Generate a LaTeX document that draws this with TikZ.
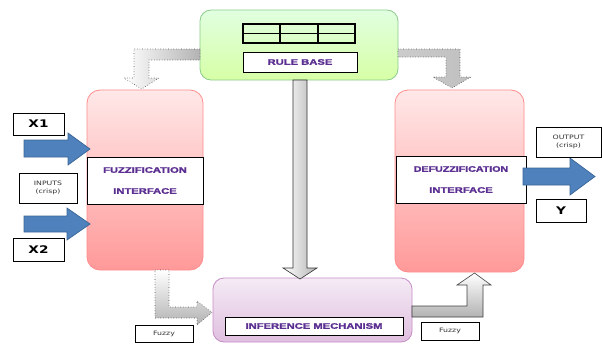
\documentclass[tikz,border=0pt]{standalone}
\usepackage{fontspec}
\usepackage{graphicx}
\newfontfamily\lbl[BoldFeatures={FakeBold=1.6}]{Liberation Sans}
\newfontfamily\vlbl{DejaVu Sans}
\newcommand\sx[1]{\scalebox{1.4}[1]{#1}}
\newcommand\sxs[1]{\scalebox{1.3}[1]{#1}}
\definecolor{purp}{HTML}{5B2E91}
\definecolor{blu}{HTML}{4F81BD}
\definecolor{bluedge}{HTML}{3A6597}
\tikzset{
  box/.style={rounded corners=11pt, inner sep=0pt, line width=0.8pt},
  band/.style={draw=black, fill=white, line width=0.8pt, inner sep=0pt, align=center,
               text=purp, font=\lbl\bfseries\fontsize{8}{21}\selectfont},
  tag/.style={draw=black, fill=white, line width=0.9pt, inner sep=0pt, align=center,
              text=black!80, font=\vlbl\fontsize{6}{8.5}\selectfont},
  bigtag/.style={tag, font=\vlbl\bfseries\fontsize{10.5}{12}\selectfont, text=black},
  grayarrow/.style={draw=black!70, line width=0.6pt, dotted, left color=white, right color=black!30},
  bluearrow/.style={draw=bluedge, line width=0.7pt, fill=blu},
}
\begin{document}
\begin{tikzpicture}[x=1pt,y=-1pt]
\useasboundingbox (0,0) rectangle (602,343);
% main blocks
\node[box, draw=green!55!black!45, top color=green!12!white, bottom color=green!45!yellow!35,
      minimum width=198pt, minimum height=70pt] (rb) at (299,45) {};
\node[box, rounded corners=13pt, draw=red!45, top color=red!9, bottom color=red!40,
      minimum width=116pt, minimum height=180pt] (fz) at (145,180) {};
\node[box, rounded corners=13pt, draw=red!45, top color=red!9, bottom color=red!40,
      minimum width=129pt, minimum height=182pt] (dz) at (459.5,181) {};
\node[box, draw=violet!45, top color=violet!8, bottom color=violet!25,
      minimum width=199pt, minimum height=64pt] (im) at (312.5,310) {};
% rule table
\draw[line width=1.6pt, black] (243,24) rectangle (355,43);
\draw[line width=1.4pt, black] (280,24) -- (280,43) (318,24) -- (318,43) (243,33.5) -- (355,33.5);
% bands
\node[band, minimum width=116pt, minimum height=47pt] (fzl) at (145,180.5) {\sx{FUZZIFICATION}\\\sx{INTERFACE}};
\node[band, minimum width=130pt, minimum height=47pt] (dzl) at (461,179.5) {\scalebox{1.33}[1]{DEFUZZIFICATION}\\\sx{INTERFACE}};
\node[band, minimum width=114pt, minimum height=20pt] (rbl) at (300,62) {\sx{RULE BASE}};
\node[band, minimum width=178pt, minimum height=18pt] (iml) at (314,326) {\sx{INFERENCE MECHANISM}};
% gray block arrows
\path[grayarrow] (200,49) -- (134,49) -- (134,78) -- (124,78) -- (141.5,89) -- (159,78) -- (149,78) -- (149,60) -- (200,60) -- cycle;
\path[grayarrow, left color=black!20, right color=black!25] (398,49) -- (460,49) -- (460,77) -- (471,77) -- (452,88) -- (433,77) -- (446,77) -- (446,57) -- (398,57) -- cycle;
\path[grayarrow, solid, draw=black!80] (293,80) -- (307,80) -- (307,268) -- (317,268) -- (300,279) -- (283,268) -- (293,268) -- cycle;
\path[grayarrow, top color=white, bottom color=black!30] (155,270) -- (169,270) -- (169,307) -- (197,307) -- (197,301) -- (212,312.5) -- (197,325) -- (197,318) -- (155,318) -- cycle;
\path[grayarrow, solid, draw=black!75, top color=white, bottom color=black!30] (412,306) -- (467,306) -- (467,285) -- (457,285) -- (474.5,273) -- (491,285) -- (483,285) -- (483,317) -- (412,317) -- cycle;
% blue arrows
\path[bluearrow] (24,140) -- (68,140) -- (68,133) -- (90,149) -- (68,165) -- (68,157) -- (24,157) -- cycle;
\path[bluearrow] (24,216) -- (67,216) -- (67,208) -- (90,224) -- (67,240) -- (67,232) -- (24,232) -- cycle;
\path[bluearrow] (523,168) -- (570,168) -- (570,158) -- (595,176.5) -- (570,195) -- (570,185) -- (523,185) -- cycle;
% tags
\node[bigtag, minimum width=51pt, minimum height=22pt] (x1) at (38.5,124) {\sxs{X1}};
\node[tag, minimum width=58pt, minimum height=30pt] (inp) at (48,188) {\sxs{INPUTS}\\\sxs{(crisp)}};
\node[bigtag, minimum width=51pt, minimum height=23pt] (x2) at (38.5,249.5) {\sxs{X2}};
\node[tag, minimum width=65pt, minimum height=30pt] (out) at (568.5,142) {\sxs{OUTPUT}\\\sxs{(crisp)}};
\node[bigtag, minimum width=50pt, minimum height=23pt] (y) at (561,210.5) {\sxs{Y}};
\node[tag, minimum width=58pt, minimum height=17pt] (fz1) at (164,333.5) {\sxs{Fuzzy}};
\node[tag, minimum width=58pt, minimum height=18pt] (fz2) at (450,331) {\sxs{Fuzzy}};
\end{tikzpicture}
\end{document}
